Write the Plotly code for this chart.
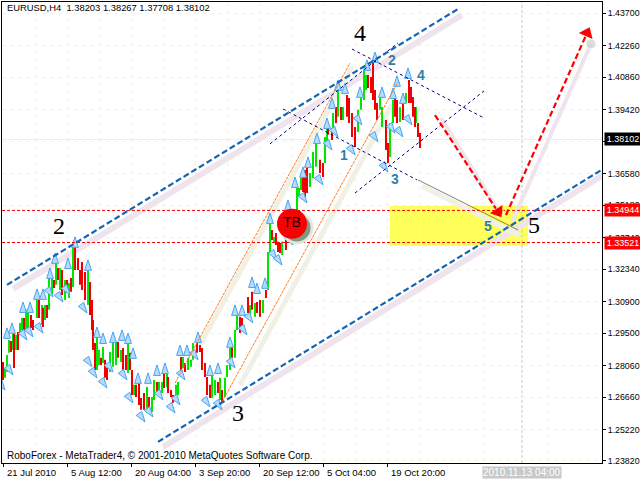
import plotly.graph_objects as go

FONT = "Liberation Sans"
# ---------- price sticks: bar position, high, low ----------
up_x = [5,7,9,13,16,20,22,26,28,37,42,45,49,52,56,60,65,69,73,88,97,99,103,110,113,116,121,128,134,147,152,154,159,162,167,176,178,183,188,191,193,212,215,220,225,227,230,235,237,250,255,263,268,270,274,282,290,294,297,299,301,310,313,316,325,327,333,338,343,358,361,364,366,380,382,390,393,400,406,416]
up_high = [1.2795,1.2853,1.2919,1.2955,1.2942,1.2995,1.3017,1.3053,1.3044,1.3106,1.3075,1.3075,1.3195,1.3195,1.3261,1.3239,1.3186,1.3172,1.3332,1.3230,1.2942,1.2875,1.2888,1.2866,1.2911,1.2911,1.2875,1.2906,1.2720,1.2711,1.2666,1.2742,1.2733,1.2733,1.2773,1.2720,1.2733,1.2844,1.2840,1.2831,1.2906,1.2764,1.2742,1.2751,1.2751,1.2808,1.2884,1.2964,1.3030,1.3075,1.3084,1.3097,1.3310,1.3439,1.3377,1.3355,1.3474,1.3497,1.3599,1.3594,1.3639,1.3661,1.3754,1.3794,1.3821,1.3861,1.3927,1.4029,1.3954,1.3941,1.3998,1.4118,1.4096,1.3998,1.3954,1.3883,1.3985,1.3954,1.4016,1.3954]
up_low = [1.2751,1.2777,1.2862,1.2875,1.2875,1.2950,1.2964,1.2964,1.2959,1.3017,1.2986,1.3008,1.3053,1.3119,1.3164,1.3141,1.3097,1.3106,1.3155,1.3075,1.2786,1.2808,1.2817,1.2777,1.2800,1.2808,1.2822,1.2773,1.2675,1.2595,1.2600,1.2653,1.2675,1.2684,1.2711,1.2662,1.2675,1.2795,1.2786,1.2800,1.2831,1.2662,1.2675,1.2653,1.2666,1.2755,1.2786,1.2840,1.2964,1.3022,1.3022,1.3039,1.3141,1.3310,1.3350,1.3297,1.3386,1.3408,1.3483,1.3554,1.3585,1.3599,1.3639,1.3688,1.3705,1.3794,1.3861,1.3910,1.3896,1.3843,1.3941,1.3985,1.4029,1.3941,1.3865,1.3732,1.3883,1.3887,1.3972,1.3883]
down_x = [3,11,14,18,24,31,33,39,43,47,54,58,62,67,71,75,78,80,82,85,90,92,93,95,101,105,107,118,123,126,130,132,136,139,141,144,149,157,164,168,171,173,181,185,197,200,202,205,207,210,218,222,232,240,242,248,252,257,260,266,272,276,278,280,286,303,305,307,320,323,328,332,336,341,347,349,352,355,368,371,373,375,377,386,388,395,397,403,409,411,413,415,418,420]
down_high = [1.2822,1.2915,1.2950,1.2955,1.3017,1.3030,1.3008,1.3097,1.3062,1.3075,1.3186,1.3239,1.3230,1.3186,1.3195,1.3332,1.3283,1.3230,1.3266,1.3221,1.3177,1.3097,1.3008,1.2906,1.2840,1.2831,1.2795,1.2911,1.2884,1.2853,1.2862,1.2786,1.2720,1.2729,1.2662,1.2684,1.2666,1.2733,1.2773,1.2755,1.2697,1.2675,1.2844,1.2817,1.2919,1.2897,1.2884,1.2817,1.2755,1.2720,1.2733,1.2697,1.2888,1.3022,1.3017,1.3110,1.3133,1.3088,1.3097,1.3141,1.3408,1.3394,1.3355,1.3350,1.3408,1.3643,1.3674,1.3683,1.3719,1.3705,1.3861,1.3861,1.3954,1.3954,1.4007,1.3994,1.3927,1.3865,1.4096,1.4087,1.4163,1.4029,1.3972,1.3896,1.3794,1.3998,1.3985,1.3972,1.4074,1.4043,1.3998,1.3954,1.3883,1.3838]
down_low = [1.2742,1.2866,1.2795,1.2875,1.2964,1.2973,1.2964,1.3017,1.2977,1.3017,1.3150,1.3186,1.3119,1.3128,1.3133,1.3230,1.3230,1.3164,1.3141,1.3097,1.3030,1.2964,1.2875,1.2786,1.2808,1.2751,1.2742,1.2840,1.2786,1.2786,1.2786,1.2675,1.2666,1.2631,1.2609,1.2609,1.2609,1.2684,1.2706,1.2684,1.2666,1.2640,1.2755,1.2777,1.2862,1.2866,1.2786,1.2755,1.2675,1.2662,1.2684,1.2644,1.2840,1.2950,1.2977,1.3039,1.3053,1.3039,1.3022,1.3106,1.3363,1.3341,1.3310,1.3306,1.3319,1.3576,1.3554,1.3572,1.3661,1.3643,1.3830,1.3807,1.3883,1.3896,1.3910,1.3883,1.3821,1.3776,1.4038,1.4016,1.3985,1.3941,1.3896,1.3763,1.3705,1.3910,1.3883,1.3896,1.3972,1.3972,1.3910,1.3865,1.3821,1.3772]
# ---------- fractal arrows ----------
frac_up_x = [12,7,23,30,37,43,50,55,68,75,88,97,103,113,122,128,133,138,148,157,165,180,187,198,210,218,230,235,242,252,257,265,270,288,295,303,308,317,327,332,338,345,360,367,375,382,393,397,408,403]
frac_up_y = [1.2995,1.2973,1.3088,1.3088,1.3146,1.3146,1.3239,1.3306,1.3283,1.3377,1.3275,1.2977,1.2950,1.2955,1.2964,1.2950,1.2884,1.2773,1.2773,1.2808,1.2817,1.2897,1.2897,1.2955,1.2808,1.2817,1.2933,1.3075,1.3075,1.3199,1.3172,1.3195,1.3483,1.3541,1.3643,1.3688,1.3732,1.3838,1.3905,1.3994,1.4074,1.4060,1.4043,1.4163,1.4198,1.4043,1.4038,1.4092,1.4127,1.4016]
frac_down_x = [13,5,27,33,43,53,63,70,87,92,97,107,113,127,133,145,153,163,175,180,185,198,210,222,235,247,253,277,282,293,307,323,332,338,355,362,378,388,395,403,412]
frac_down_y = [1.2764,1.2697,1.2919,1.2933,1.2950,1.3110,1.3088,1.3119,1.3039,1.2800,1.2751,1.2706,1.2777,1.2742,1.2640,1.2555,1.2577,1.2653,1.2595,1.2631,1.2742,1.2831,1.2622,1.2609,1.2795,1.2942,1.2995,1.3275,1.3252,1.3341,1.3528,1.3608,1.3763,1.3821,1.3741,1.3874,1.3799,1.3665,1.3838,1.3821,1.3874]
# ---------- levels, axes, labels ----------
level_prices = [1.34944, 1.33521]
last_price = 1.38102
zone_x = [390, 528]
zone_y = [1.3337, 1.3514]
cursor_x = 522
y_ticks = [1.4370,1.4226,1.4086,1.3942,1.3802,1.3658,1.3518,1.3374,1.3234,1.3090,1.2950,1.2806,1.2666,1.2522,1.2382]
y_tick_text = ["%.5f" % v for v in y_ticks]
x_ticks = [3,67,131,195,259,323,387]
x_tick_text = ["21 Jul 2010","5 Aug 12:00","20 Aug 04:00","3 Sep 20:00","20 Sep 12:00","5 Oct 04:00","19 Oct 20:00"]
big_labels = ["2","3","4","5"]
big_x = [59,238,360,534]
big_y = [1.3426,1.2595,1.4282,1.3430]
wave_labels = ["1","2","3","4","5"]
wave_x = [344,392,395,421,488]
wave_y = [1.3741,1.4163,1.3634,1.4096,1.3426]
# ---------- straight lines: x pair, price pair ----------
blue_up_x, blue_up_y = [7,458], [1.3164,1.4389]
blue_up_sh_x, blue_up_sh_y = [13,462], [1.3146,1.4362]
blue_lo_x, blue_lo_y = [158,608], [1.2467,1.3692]
blue_lo_sh_x, blue_lo_sh_y = [163,608], [1.2444,1.3665]
or1_x, or1_y = [175,350], [1.2728,1.4149]
or2_x, or2_y = [222,398], [1.2644,1.4065]
or1_sh_x, or1_sh_y = [200,352], [1.2897,1.4131]
or2_sh_x, or2_sh_y = [240,392], [1.2720,1.3963]
navy_lines = [([352,484],[1.4211,1.3905]),([283,417],[1.3945,1.3630]),([270,398],[1.3790,1.4238]),([355,484],[1.3572,1.4025])]
grey_x, grey_y = [418,518], [1.3630,1.3408]
grey_sh_x, grey_sh_y = [422,520], [1.3603,1.3381]
arrow1_x, arrow1_y = [435,498], [1.3918,1.3488]
arrow2_x, arrow2_y = [506,587], [1.3474,1.4282]
arrow1_sh_x, arrow1_sh_y = [441,499], [1.3905,1.3488]
arrow2_sh_x, arrow2_sh_y = [512,591], [1.3443,1.4234]
ball_x, ball_y = 292, 1.3435
ball_sh_x, ball_sh_y = 297, 1.3417

PLOT_L, PLOT_R = 2, 602
Y_BOT, Y_TOP = 1.2373, 1.4420
BOX_PAPER_X = 1.0033


def sticks(xs, hi, lo):
    sx, sy = [], []
    for x, h, l in zip(xs, hi, lo):
        sx += [x, x, None]
        sy += [l, h, None]
    return sx, sy


fig = go.Figure()


def line(x, y, color, width, dash="solid", clip=True):
    fig.add_trace(go.Scatter(x=x, y=y, mode="lines", cliponaxis=clip, hoverinfo="skip",
                             line=dict(color=color, width=width, dash=dash), showlegend=False))


# soft shadows
PINK = "#efe4ee"
OLIVE = "#f0f0e4"
line(blue_up_sh_x, blue_up_sh_y, PINK, 6)
line(blue_lo_sh_x, blue_lo_sh_y, PINK, 6, clip=False)
line(or1_sh_x, or1_sh_y, OLIVE, 5)
line(or2_sh_x, or2_sh_y, OLIVE, 5)
line(grey_sh_x, grey_sh_y, OLIVE, 5)
line(arrow1_sh_x, arrow1_sh_y, PINK, 4)
line(arrow2_sh_x, arrow2_sh_y, PINK, 4)

# price bars
sx, sy = sticks(up_x, up_high, up_low)
line(sx, sy, "#00e600", 2)
sx, sy = sticks(down_x, down_high, down_low)
line(sx, sy, "#f00000", 2)

# fractals
fig.add_trace(go.Scatter(x=frac_up_x, y=frac_up_y, mode="markers", hoverinfo="skip", showlegend=False,
                         marker=dict(symbol="arrow", size=11, angle=0, color="#b4dafc",
                                     line=dict(color="#4aa5f2", width=1))))
fig.add_trace(go.Scatter(x=frac_down_x, y=frac_down_y, mode="markers", hoverinfo="skip", showlegend=False,
                         marker=dict(symbol="arrow", size=11, angle=145, color="#b4dafc",
                                     line=dict(color="#4aa5f2", width=1))))

# channel lines
line(or1_x, or1_y, "#ff7a1e", 1, "3px,1px")
line(or2_x, or2_y, "#ff7a1e", 1, "3px,1px")
for nx, ny in navy_lines:
    line(nx, ny, "#000080", 1, "3px,3px")
line(grey_x, grey_y, "#808070", 1)
for p in level_prices:
    line([PLOT_L, PLOT_R], [p, p], "#ff0000", 1, "3px,2px")
line(blue_up_x, blue_up_y, "#1464b4", 2.2, "6px,3px")
line(blue_lo_x, blue_lo_y, "#1464b4", 2.2, "6px,3px", clip=False)
line(arrow1_x, arrow1_y, "#ff0000", 2.2, "6px,3px")
line(arrow2_x, arrow2_y, "#ff0000", 2.2, "6px,3px")

# arrow ends
fig.add_trace(go.Scatter(x=[arrow1_sh_x[1], arrow2_sh_x[1]], y=[arrow1_sh_y[1], arrow2_sh_y[1]], mode="markers",
                         hoverinfo="skip", showlegend=False,
                         marker=dict(symbol="circle", size=[9, 10], color=["#a8a878", "#c8d4c8"])))
fig.add_trace(go.Scatter(x=[arrow1_x[1], arrow2_x[1]], y=[arrow1_y[1], arrow2_y[1]], mode="markers",
                         hoverinfo="skip", showlegend=False,
                         marker=dict(symbol="triangle-up", size=13, angle=[147, 24], color="#ff0000")))

# TB ball
fig.add_trace(go.Scatter(x=[ball_sh_x], y=[ball_sh_y], mode="markers", hoverinfo="skip", showlegend=False,
                         marker=dict(size=30, color="#7d9c7d", line=dict(color="#e8e4e4", width=3))))
fig.add_trace(go.Scatter(x=[ball_x], y=[ball_y], mode="markers+text", text=["TB"], textposition="middle center",
                         textfont=dict(family=FONT, size=14, color="#000000"), hoverinfo="skip", showlegend=False,
                         marker=dict(size=30, color="#fa0000")))

# zone + cursor + last-price line
fig.add_shape(type="rect", x0=zone_x[0], x1=zone_x[1], y0=zone_y[0], y1=zone_y[1],
              fillcolor="#ffff5a", line_width=0, layer="below")
fig.add_shape(type="line", x0=PLOT_L, x1=PLOT_R, y0=last_price, y1=last_price,
              line=dict(color="#f0f0dc", width=1), layer="below")
fig.add_shape(type="line", x0=cursor_x, x1=cursor_x, y0=Y_BOT, y1=Y_TOP,
              line=dict(color="#c8c8c8", width=1, dash="3px,2px"), layer="below")

# annotations
for t, x, y in zip(big_labels, big_x, big_y):
    fig.add_annotation(x=x, y=y, text=t, showarrow=False,
                       font=dict(family="Liberation Serif", size=24, color="#000000"))
for t, x, y in zip(wave_labels, wave_x, wave_y):
    fig.add_annotation(x=x, y=y, text="<b>%s</b>" % t, showarrow=False,
                       font=dict(family=FONT, size=14, color="#2f7fa8"))
for t, x in zip(x_tick_text, x_ticks):
    fig.add_annotation(x=x + 2, xanchor="left", yref="paper", y=0, yanchor="middle", yshift=-9, text=t,
                       showarrow=False, font=dict(family=FONT, size=9.5, color="#000000"))
fig.add_annotation(x=cursor_x, yref="paper", y=0, yanchor="middle", yshift=-9, text="2010.11.13 04:00", showarrow=False,
                   bgcolor="#c8c8c8", font=dict(family=FONT, size=10, color="#ffffff"), borderpad=0)
fig.add_annotation(x=5, xanchor="left", y=1.4394, text="EURUSD,H4  1.38203 1.38267 1.37708 1.38102", showarrow=False,
                   font=dict(family=FONT, size=9.4, color="#000000"))
fig.add_annotation(x=5, xanchor="left", y=1.2408, text="RoboForex - MetaTrader4, © 2001-2010 MetaQuotes Software Corp.",
                   showarrow=False, font=dict(family=FONT, size=10, color="#000000"))
for p, bg in zip(level_prices + [last_price], ["#ff0000", "#ff0000", "#000000"]):
    fig.add_annotation(xref="paper", x=BOX_PAPER_X, xanchor="left", y=p, text="%.5f" % p, showarrow=False, bgcolor=bg,
                       width=36, height=12, align="center", borderpad=0,
                       font=dict(family=FONT, size=9, color="#ffffff"))

fig.update_layout(
    width=640, height=480, margin=dict(l=2, r=38, t=2, b=17),
    paper_bgcolor="#ffffff", plot_bgcolor="#ffffff", showlegend=False,
    xaxis=dict(range=[PLOT_L, PLOT_R], automargin=False, tickvals=x_ticks, ticktext=[""] * len(x_ticks), ticks="outside",
               ticklen=3, tickcolor="#000000", showline=True, mirror=True, linecolor="#000000", linewidth=1,
               zeroline=False, showgrid=True, gridcolor="#f5f5dc", griddash="4px,4px",
               minor=dict(tick0=35, dtick=64, showgrid=True, gridcolor="#f5f5dc", griddash="4px,4px", ticks="")),
    yaxis=dict(range=[Y_BOT, Y_TOP], automargin=False, side="right", tickvals=y_ticks, ticktext=y_tick_text, ticks="outside",
               ticklen=3, tickcolor="#000000", showline=True, mirror=True, linecolor="#000000", linewidth=1,
               zeroline=False, showgrid=True, gridcolor="#f5f5dc", griddash="4px,4px", ticklabelstandoff=0,
               tickfont=dict(family=FONT, size=8.8, color="#000000")),
)

fig.write_html("out.html", post_script="document.body.style.margin='0';window.dispatchEvent(new Event('resize'));",
               config={"displayModeBar": False})
